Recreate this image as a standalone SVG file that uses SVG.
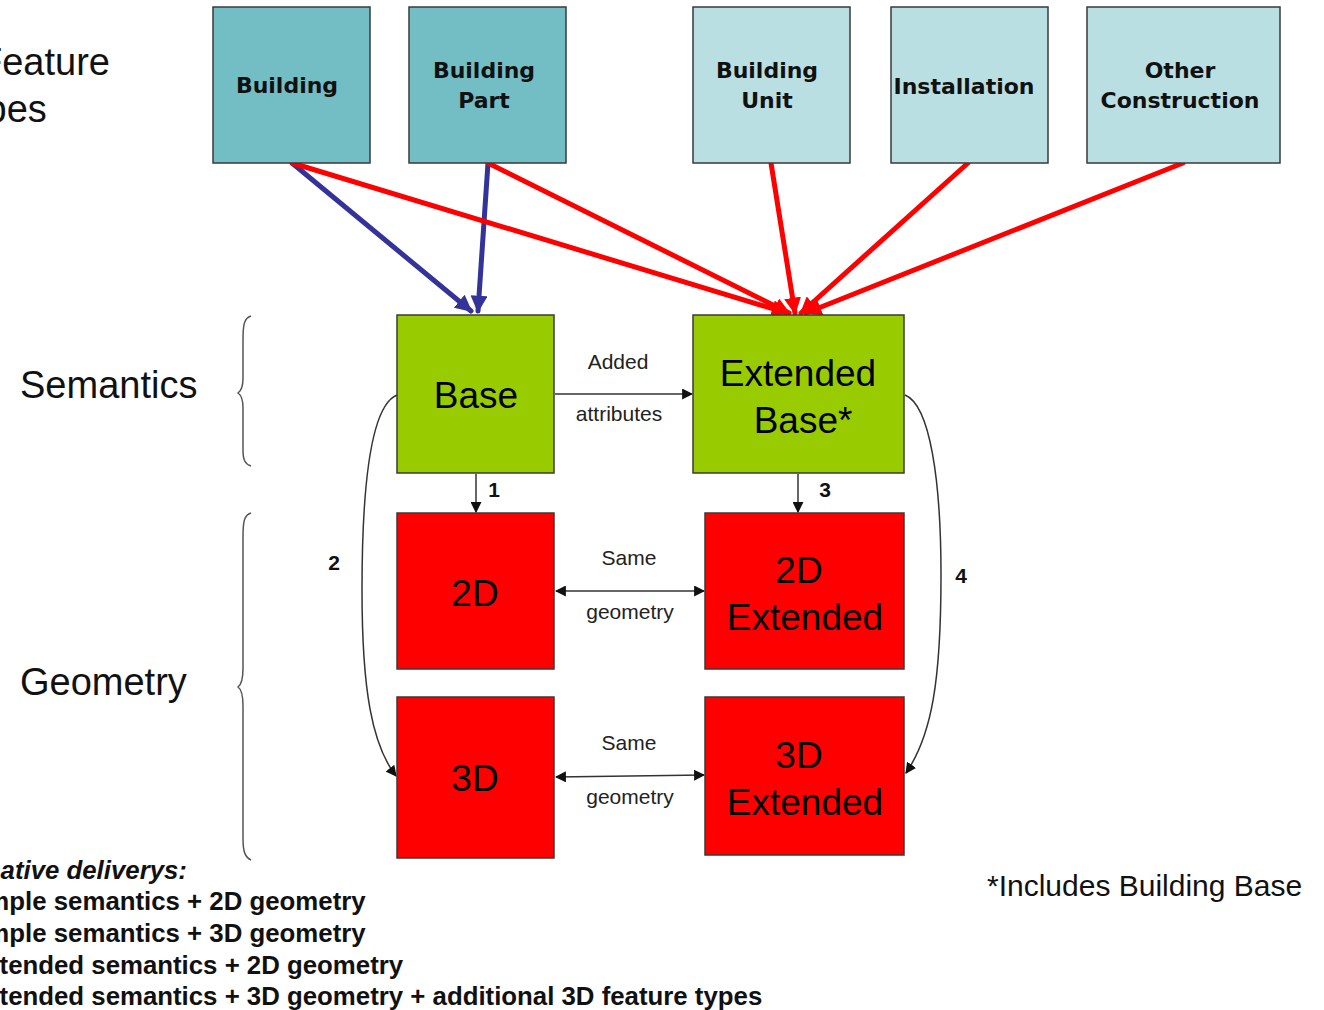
<svg xmlns="http://www.w3.org/2000/svg" width="1324" height="1010" viewBox="0 0 1324 1010">
<defs>
<style>
.box{stroke:#3a3a3a;stroke-width:1.5}
.dark{fill:#72BEC4}
.light{fill:#BADFE2}
.green{fill:#99CC00}
.red{fill:#FF0000}
.tl{font-family:"DejaVu Sans",Verdana,sans-serif;font-weight:bold;font-size:22px;fill:#111;text-anchor:middle}
.big{font-family:"Liberation Sans",Arial,sans-serif;font-size:37px;fill:#000;text-anchor:middle}
.sm{font-family:"Liberation Sans",Arial,sans-serif;font-size:21px;fill:#222;text-anchor:middle}
.num{font-family:"Liberation Sans",Arial,sans-serif;font-weight:bold;font-size:21px;fill:#111;text-anchor:middle}
.side{font-family:"Liberation Sans",Arial,sans-serif;font-size:38px;fill:#111}
.foot{font-family:"Liberation Sans",Arial,sans-serif;font-weight:bold;font-size:25.8px;fill:#111}
.thick{fill:none;stroke-width:5;stroke-linecap:round}
.thin{fill:none;stroke:#333;stroke-width:1.5}
.brace{fill:none;stroke:#555;stroke-width:1.5}
</style>
<marker id="hb" viewBox="0 0 10 10" refX="9" refY="5" markerWidth="17" markerHeight="17" markerUnits="userSpaceOnUse" orient="auto"><path d="M0,0 L10,5 L0,10 z" fill="#333399"/></marker>
<marker id="hr" viewBox="0 0 10 10" refX="9" refY="5" markerWidth="17" markerHeight="17" markerUnits="userSpaceOnUse" orient="auto"><path d="M0,0 L10,5 L0,10 z" fill="#FF0000"/></marker>
<marker id="hk" viewBox="0 0 10 10" refX="9" refY="5" markerWidth="11" markerHeight="11" markerUnits="userSpaceOnUse" orient="auto-start-reverse"><path d="M0,0 L10,5 L0,10 z" fill="#111"/></marker>
</defs>
<rect width="1324" height="1010" fill="#fff"/>

<g id="labels">
<text class="side" x="-21" y="75">Feature</text>
<text class="side" x="-44" y="122">types</text>
<text class="side" x="20" y="398">Semantics</text>
<text class="side" x="20" y="695">Geometry</text>
<path class="brace" d="M251,316 C244,318 243,325 243,340 L243,378 C243,387 241,391 238,393 C241,395 243,399 243,408 L243,450 C243,460 245,464 251,466"/>
<path class="brace" d="M251,513 C244,515 243,522 243,537 L243,668 C243,680 241,685 238,687 C241,689 243,694 243,706 L243,838 C243,852 245,857 251,860"/>
<text class="foot" x="-74" y="879" font-style="italic">Alternative deliverys:</text>
<text class="foot" x="-38" y="910">Simple semantics + 2D geometry</text>
<text class="foot" x="-38" y="942">Simple semantics + 3D geometry</text>
<text class="foot" x="-32" y="974">Extended semantics + 2D geometry</text>
<text class="foot" x="-32" y="1005">Extended semantics + 3D geometry + additional 3D feature types</text>
<text x="987" y="896" font-family="Liberation Sans, Arial, sans-serif" font-size="30" fill="#111">*Includes Building Base</text>
</g>

<g id="connectors">
<line class="thick" stroke="#333399" x1="292" y1="163" x2="471" y2="311" marker-end="url(#hb)"/>
<line class="thick" stroke="#333399" x1="488" y1="163" x2="478" y2="311" marker-end="url(#hb)"/>
<line class="thick" stroke="#FF0000" x1="292" y1="163" x2="787" y2="313" marker-end="url(#hr)"/>
<line class="thick" stroke="#FF0000" x1="488" y1="163" x2="789" y2="313" marker-end="url(#hr)"/>
<line class="thick" stroke="#FF0000" x1="771" y1="163" x2="795" y2="313" marker-end="url(#hr)"/>
<line class="thick" stroke="#FF0000" x1="968" y1="163" x2="801" y2="313" marker-end="url(#hr)"/>
<line class="thick" stroke="#FF0000" x1="1183" y1="163" x2="806" y2="313" marker-end="url(#hr)"/>
<line class="thin" x1="555" y1="394" x2="692" y2="394" marker-end="url(#hk)"/>
<text class="sm" x="618" y="369">Added</text>
<text class="sm" x="619" y="421">attributes</text>
<line class="thin" x1="476" y1="474" x2="476" y2="512" marker-end="url(#hk)"/>
<text class="num" x="494" y="497">1</text>
<line class="thin" x1="798" y1="474" x2="798" y2="512" marker-end="url(#hk)"/>
<text class="num" x="825" y="497">3</text>
<line class="thin" x1="556" y1="591" x2="704" y2="591" marker-start="url(#hk)" marker-end="url(#hk)"/>
<text class="sm" x="629" y="565">Same</text>
<text class="sm" x="630" y="619">geometry</text>
<line class="thin" x1="556" y1="777" x2="704" y2="775" marker-start="url(#hk)" marker-end="url(#hk)"/>
<text class="sm" x="629" y="750">Same</text>
<text class="sm" x="630" y="804">geometry</text>
<path class="thin" d="M397,395 C372,405 362,480 362,590 C362,690 372,745 396,776" marker-end="url(#hk)"/>
<text class="num" x="334" y="570">2</text>
<path class="thin" d="M905,395 C930,405 941,480 941,575 C941,680 932,735 906,773" marker-end="url(#hk)"/>
<text class="num" x="961" y="583">4</text>
</g>

<g id="n-building"><rect class="box dark" x="213" y="7" width="157" height="156"/><text class="tl" x="287" y="93">Building</text></g>
<g id="n-buildingpart"><rect class="box dark" x="409" y="7" width="157" height="156"/><text class="tl" x="484" y="78">Building</text><text class="tl" x="484" y="108">Part</text></g>
<g id="n-buildingunit"><rect class="box light" x="693" y="7" width="157" height="156"/><text class="tl" x="767" y="78">Building</text><text class="tl" x="767" y="108">Unit</text></g>
<g id="n-installation"><rect class="box light" x="891" y="7" width="157" height="156"/><text class="tl" x="964" y="94">Installation</text></g>
<g id="n-other"><rect class="box light" x="1087" y="7" width="193" height="156"/><text class="tl" x="1180" y="78">Other</text><text class="tl" x="1180" y="108">Construction</text></g>

<g id="n-base"><rect class="box green" x="397" y="315" width="157" height="158"/><text class="big" x="476" y="408">Base</text></g>
<g id="n-extbase"><rect class="box green" x="693" y="315" width="211" height="158"/><text class="big" x="798" y="386">Extended</text><text class="big" x="803" y="433">Base*</text></g>
<g id="n-2d"><rect class="box red" x="397" y="513" width="157" height="156"/><text class="big" x="475" y="606">2D</text></g>
<g id="n-2dext"><rect class="box red" x="705" y="513" width="199" height="156"/><text class="big" x="799" y="583">2D</text><text class="big" x="805" y="630">Extended</text></g>
<g id="n-3d"><rect class="box red" x="397" y="697" width="157" height="161"/><text class="big" x="475" y="791">3D</text></g>
<g id="n-3dext"><rect class="box red" x="705" y="697" width="199" height="158"/><text class="big" x="799" y="768">3D</text><text class="big" x="805" y="815">Extended</text></g>
</svg>
